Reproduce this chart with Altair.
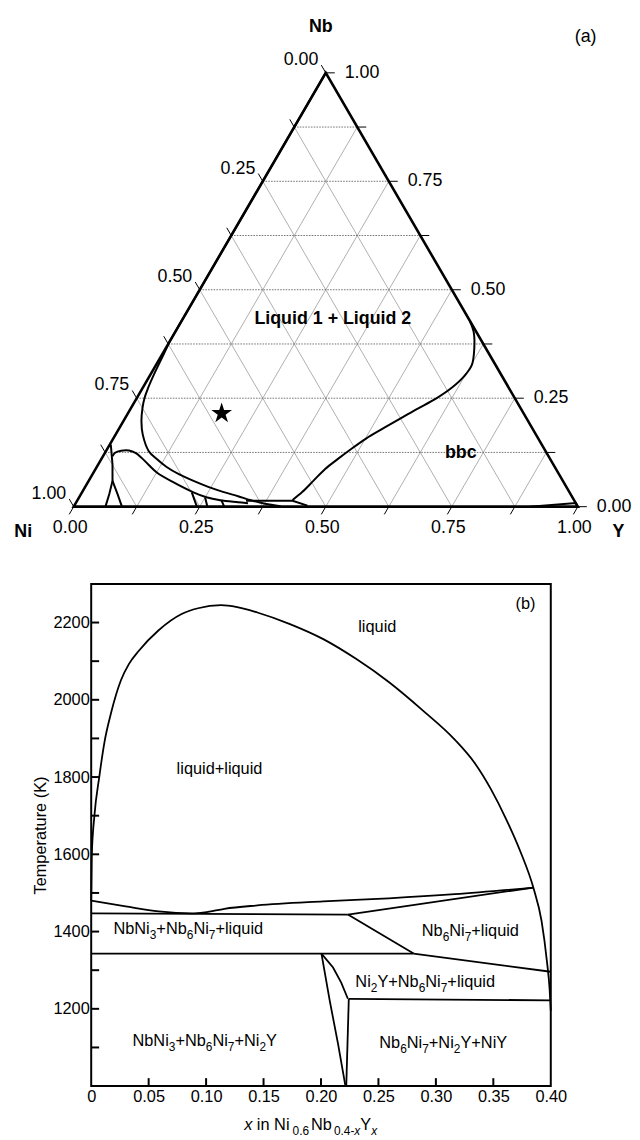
import altair as alt
import pandas as pd

FONT = "Liberation Sans"

# ================= (a) Ni-Nb-Y ternary section; points are (Y fraction, Nb fraction)
GRID_FRACTIONS = [0.125, 0.25, 0.375, 0.5, 0.625, 0.75, 0.875]
TICK_FRACTIONS = [0.0, 0.125, 0.25, 0.375, 0.5, 0.625, 0.75, 0.875, 1.0]
LABEL_FRACTIONS = [0.0, 0.25, 0.5, 0.75, 1.0]
LABEL_TEXTS = ["0.00", "0.25", "0.50", "0.75", "1.00"]

GAP_WEST_Y = [0.0, 0.0, 0.003, 0.0063, 0.011, 0.0151, 0.023, 0.0362, 0.054, 0.085, 0.110,
              0.1387, 0.170, 0.208, 0.244, 0.279, 0.314, 0.344, 0.376, 0.410]
GAP_WEST_NB = [1.0, 0.38, 0.349, 0.3105, 0.2724, 0.2511, 0.2267, 0.1963, 0.166, 0.1279, 0.1096,
               0.0913, 0.0753, 0.0594, 0.0457, 0.0342, 0.024, 0.0148, 0.0068, 0.0011]
GAP_EAST_Y = [0.4265, 0.4366, 0.4456, 0.4554, 0.468, 0.4835, 0.501, 0.5214, 0.541, 0.567,
              0.594, 0.6135, 0.6244, 0.6265, 0.613, 0.5926, 0.5715]
GAP_EAST_NB = [0.0153, 0.0342, 0.0594, 0.0868, 0.1084, 0.1324, 0.1564, 0.1781, 0.1975, 0.2237,
               0.2489, 0.2751, 0.3014, 0.3265, 0.363, 0.4018, 0.4285]
HUMP_Y = [0.0187, 0.0199, 0.0295, 0.045, 0.0617, 0.0793, 0.101, 0.1254, 0.1703, 0.221,
          0.2523, 0.2833, 0.321, 0.3418]
HUMP_NB = [0.1164, 0.1244, 0.129, 0.1295, 0.1233, 0.1119, 0.0959, 0.0788, 0.0559, 0.0331,
           0.0217, 0.0148, 0.0103, 0.008]
STEM_Y = [0.002, 0.0282, 0.0473]
STEM_NB = [0.1432, 0.0975, 0.0594]
BRANCH_L_Y = [0.0473, 0.0561, 0.063]
BRANCH_L_NB = [0.0594, 0.029, 0.0]
BRANCH_R_Y = [0.0473, 0.0725, 0.0957]
BRANCH_R_NB = [0.0594, 0.029, 0.0]
SPUR1_Y, SPUR1_NB = [0.2177, 0.2443], [0.0331, 0.0]
SPUR2_Y, SPUR2_NB = [0.2501, 0.2652], [0.0212, 0.0]
SPUR3_Y, SPUR3_NB = [0.2864, 0.2986], [0.0137, 0.0]
SHELF_Y, SHELF_NB = [0.335, 0.4273, 0.4625], [0.0137, 0.0137, 0.0023]
SLIVER_Y, SLIVER_NB = [0.905, 0.9918, 1.0], [0.0, 0.0084, 0.0]

STAR_Y, STAR_NB = [0.186], [0.215]

REGION_TEXT = ["Liquid 1 + Liquid 2", "bbc"]
REGION_Y = [0.298, 0.7065]
REGION_NB = [0.432, 0.1226]
PANEL_A_TEXT, PANEL_A_Y, PANEL_A_NB = ["(a)"], [0.474], [1.083]

# ================= (b) vertical section Ni0.6Nb0.4-xYx
DOME_X = [0.0, 0.0005, 0.0028, 0.0071, 0.0114, 0.0172, 0.0258, 0.0329, 0.0415, 0.0587, 0.0787,
          0.093, 0.113, 0.127, 0.1446, 0.173, 0.202, 0.2305, 0.259, 0.288, 0.3164, 0.3336,
          0.348, 0.361, 0.3737, 0.385, 0.392, 0.3966, 0.399, 0.4]
DOME_T = [1480, 1597, 1700, 1802, 1888, 1965, 2050, 2093, 2127, 2180, 2222,
          2237, 2245, 2240, 2226, 2196, 2157, 2106, 2046, 1974, 1897, 1837,
          1768, 1692, 1606, 1512, 1427, 1324, 1250, 1195]
UPPER_X = [0.0, 0.030, 0.0587, 0.0873, 0.0988, 0.116, 0.1446, 0.202, 0.259, 0.3164, 0.385]
UPPER_T = [1480, 1465, 1452, 1447, 1449.6, 1459, 1467.7, 1478, 1486, 1496.7, 1514]
INV1_X, INV1_T = [0.0, 0.2234], [1447, 1444]
CONV_X, CONV_T = [0.2234, 0.385], [1444, 1514]
DIAG1_X, DIAG1_T = [0.2234, 0.2806], [1444, 1343]
INV2_X, INV2_T = [0.0, 0.2806], [1343, 1343]
DIAG2_X, DIAG2_T = [0.2806, 0.4], [1343, 1296]
CURVE_A_X = [0.2004, 0.2105, 0.2176, 0.2234]
CURVE_A_T = [1343, 1307, 1268, 1226]
CURVE_B_X = [0.2004, 0.2076, 0.2148, 0.2213]
CURVE_B_T = [1343, 1221, 1110, 1000]
STEMB_X, STEMB_T = [0.2242, 0.222], [1226, 1000]
INV3_X, INV3_T = [0.2242, 0.4], [1226, 1222]

X_LABEL_VALUES = [0, 0.05, 0.10, 0.15, 0.20, 0.25, 0.30, 0.35, 0.40]
X_TICK_VALUES = [0.05, 0.10, 0.15, 0.20, 0.25, 0.30, 0.35]
Y_LABEL_VALUES = [1200, 1400, 1600, 1800, 2000, 2200]
Y_TICK_VALUES = [1100, 1200, 1300, 1400, 1500, 1600, 1700, 1800, 1900, 2000, 2100, 2200]

PHASE_TEXT = ["liquid", "liquid+liquid", "NbNi_3+Nb_6Ni_7+liquid", "Nb_6Ni_7+liquid",
              "Ni_2Y+Nb_6Ni_7+liquid", "NbNi_3+Nb_6Ni_7+Ni_2Y", "Nb_6Ni_7+Ni_2Y+NiY", "(b)"]
PHASE_X = [0.249, 0.1117, 0.0845, 0.330, 0.2907, 0.0988, 0.3064, 0.378]
PHASE_T = [2191, 1824, 1409, 1405, 1273, 1119, 1114, 2251]

TITLE_PIECES = ["x", "in Ni", "0.6", "Nb", "0.4-", "x", "Y", "x"]
TITLE_STYLES = ["main_it", "main", "sub", "main", "sub", "sub_it", "main", "sub_it"]
TITLE_X, TITLE_T = 0.191, 902.6

# ----------------------------------------------------------------- helpers
A_W, A_H = 464, 562
B_W, B_H = 464, 507
XA_DOMAIN = [0.03472, 0.94631]
YA_DOMAIN = [-0.14612, 1.13699]
D = 0.0178  # ternary tick length (composition units)
FS_A = 18
FS_B = 16.5
FS_SUB = 12
PX_PER_X = B_W / 0.4
TITLE_GAPS = [0, 4.6, 3, 2, 2, 0, 0, 0]  # px of spacing before each title piece
STAR_PATH = ("M0,-1L0.2245,-0.309L0.9511,-0.309L0.3633,0.118L0.5878,0.809L0,0.382"
             "L-0.5878,0.809L-0.3633,0.118L-0.9511,-0.309L-0.2245,-0.309Z")


def tern_df(rows):
    df = pd.DataFrame(rows)
    df["u"] = df["Y"] + df["Nb"] / 2.0
    df["v"] = df["Nb"]
    return df


SMOOTH_A = {"gw": (GAP_WEST_Y[1:], GAP_WEST_NB[1:]), "ge": (GAP_EAST_Y, GAP_EAST_NB),
            "hump": (HUMP_Y, HUMP_NB)}
STRAIGHT_A = {
    "gw0": (GAP_WEST_Y[:2], GAP_WEST_NB[:2]), "stem": (STEM_Y, STEM_NB),
    "bl": (BRANCH_L_Y, BRANCH_L_NB), "br": (BRANCH_R_Y, BRANCH_R_NB),
    "s1": (SPUR1_Y, SPUR1_NB), "s2": (SPUR2_Y, SPUR2_NB), "s3": (SPUR3_Y, SPUR3_NB),
    "shelf": (SHELF_Y, SHELF_NB), "sliver": (SLIVER_Y, SLIVER_NB),
}


def curve_frame(curves):
    rows = []
    for cid, (ys, nbs) in curves.items():
        for i, (y, nb) in enumerate(zip(ys, nbs)):
            rows.append({"id": cid, "ord": i, "Y": y, "Nb": nb})
    return tern_df(rows)


smooth_a = curve_frame(SMOOTH_A)
straight_a = curve_frame(STRAIGHT_A)

rows = []
for k, f in enumerate(GRID_FRACTIONS):
    fams = (("h", [(0.0, f), (1 - f, f)]),
            ("a", [(f, 0.0), (f, 1 - f)]),
            ("b", [(1 - f, 0.0), (0.0, 1 - f)]))
    for kind, pts in fams:
        for i, (y, nb) in enumerate(pts):
            rows.append({"id": f"{kind}{k}", "kind": kind, "ord": i, "Y": y, "Nb": nb})
grid_a = tern_df(rows)
grid_h_df = grid_a[grid_a["kind"] == "h"]
grid_d_df = grid_a[grid_a["kind"] != "h"]

rows = []
for k, f in enumerate(TICK_FRACTIONS):
    segs = (("r", [(1 - f, f), (1 - f + D, f)]),
            ("l", [(0.0, 1 - f), (-D, 1 - f + D)]),
            ("b", [(f, 0.0), (f, -D)]))
    for side, pts in segs:
        for i, (y, nb) in enumerate(pts):
            rows.append({"id": f"{side}{k}", "ord": i, "Y": y, "Nb": nb})
ticks_a = tern_df(rows)

tri_a = tern_df([{"id": "t", "ord": 0, "Y": 0.0, "Nb": 0.0}, {"id": "t", "ord": 1, "Y": 1.0, "Nb": 0.0},
                 {"id": "t", "ord": 2, "Y": 0.0, "Nb": 1.0}, {"id": "t", "ord": 3, "Y": 0.0, "Nb": 0.0},
                 {"id": "t", "ord": 4, "Y": 1.0, "Nb": 0.0}])

left_lab = tern_df([{"Y": -D, "Nb": 1 - t + D, "text": s} for t, s in zip(LABEL_FRACTIONS, LABEL_TEXTS)])
right_lab = tern_df([{"Y": 1 - t + D, "Nb": t, "text": s} for t, s in zip(LABEL_FRACTIONS, LABEL_TEXTS)])
bottom_lab = tern_df([{"Y": t, "Nb": -D, "text": s} for t, s in zip(LABEL_FRACTIONS, LABEL_TEXTS)])
star_a = tern_df([{"Y": y, "Nb": nb} for y, nb in zip(STAR_Y, STAR_NB)])
region_a = tern_df([{"Y": y, "Nb": nb, "text": s} for s, y, nb in zip(REGION_TEXT, REGION_Y, REGION_NB)])
panel_a = tern_df([{"Y": y, "Nb": nb, "text": s} for s, y, nb in zip(PANEL_A_TEXT, PANEL_A_Y, PANEL_A_NB)])
corner_nb = tern_df([{"Y": 0.0, "Nb": 1.0, "text": "Nb"}])
corner_ni = tern_df([{"Y": 0.0, "Nb": 0.0, "text": "Ni"}])
corner_y = tern_df([{"Y": 1.0, "Nb": 0.0, "text": "Y"}])

xA = alt.X("u:Q", scale=alt.Scale(domain=XA_DOMAIN, nice=False, zero=False), axis=None)
yA = alt.Y("v:Q", scale=alt.Scale(domain=YA_DOMAIN, nice=False, zero=False), axis=None)


def txt(df, **kw):
    base = dict(font=FONT, fontSize=FS_A, color="black")
    base.update(kw)
    return alt.Chart(df).mark_text(**base).encode(x=xA, y=yA, text="text:N")


def path(df, **kw):
    return alt.Chart(df).mark_line(**kw).encode(x=xA, y=yA, detail="id:N", order="ord:Q")


grid_h = path(grid_h_df, color="#666666", strokeWidth=0.9, strokeDash=[1.6, 1.2])
grid_d = path(grid_d_df, color="#8c8c8c", strokeWidth=0.7)
ticks = path(ticks_a, color="black", strokeWidth=1.0)
tri = path(tri_a, color="black", strokeWidth=2.6)
curves_s = path(smooth_a, color="black", strokeWidth=2.0, interpolate="catmull-rom")
curves_l = path(straight_a, color="black", strokeWidth=2.0)
star = alt.Chart(star_a).mark_point(shape=STAR_PATH, filled=True, color="black", size=480,
                                    opacity=1, strokeWidth=0).encode(x=xA, y=yA)

chart_a = alt.layer(
    grid_d, grid_h, ticks, curves_s, curves_l, tri, star,
    txt(left_lab, align="right", baseline="middle", dx=-3, dy=-5),
    txt(right_lab, align="left", baseline="middle", dx=10),
    txt(bottom_lab, align="center", baseline="middle", dx=1, dy=14),
    txt(corner_nb, fontWeight="bold", align="center", baseline="middle", dx=-5, dy=-46),
    txt(corner_ni, fontWeight="bold", align="center", baseline="middle", dx=-51, dy=26),
    txt(corner_y, fontWeight="bold", align="center", baseline="middle", dx=41, dy=26),
    txt(region_a, fontWeight="bold", align="center", baseline="middle"),
    txt(panel_a, align="center", baseline="middle"),
).properties(width=A_W, height=A_H)

# ----------------------------------------------------------------- (b)
SMOOTH_B = {"dome": (DOME_X, DOME_T), "upper": (UPPER_X, UPPER_T)}
STRAIGHT_B = {
    "inv1": (INV1_X, INV1_T), "conv": (CONV_X, CONV_T), "diag1": (DIAG1_X, DIAG1_T),
    "inv2": (INV2_X, INV2_T), "diag2": (DIAG2_X, DIAG2_T), "ca": (CURVE_A_X, CURVE_A_T),
    "cb": (CURVE_B_X, CURVE_B_T), "stem": (STEMB_X, STEMB_T), "inv3": (INV3_X, INV3_T),
}


def line_frame(curves):
    rows = []
    for cid, (xs, ts) in curves.items():
        for i, (xv, tv) in enumerate(zip(xs, ts)):
            rows.append({"id": cid, "ord": i, "x": xv, "T": tv})
    return pd.DataFrame(rows)


smooth_b = line_frame(SMOOTH_B)
straight_b = line_frame(STRAIGHT_B)

ADV = {" ": 278, ".": 278, "-": 333, "+": 584, "(": 333, ")": 333, "x": 500, "i": 222,
       "n": 556, "N": 722, "b": 556, "Y": 667, "l": 222, "q": 556, "u": 556, "d": 556}


def adv(s, size):
    return sum(ADV.get(c, 556) for c in s) * size / 1000.0


def split_rich(label):
    out, buf, i = [], "", 0
    while i < len(label):
        c = label[i]
        if c == "_":
            if buf:
                out.append((buf, "main"))
                buf = ""
            out.append((label[i + 1], "sub"))
            i += 2
        else:
            buf += c
            i += 1
    if buf:
        out.append((buf, "main"))
    return out


def rich_rows(pieces, xc, tc, gaps=None):
    if gaps is None:
        gaps = [0] * len(pieces)
    sizes = [FS_SUB if st.startswith("sub") else FS_B for _, st in pieces]
    total = sum(adv(p, s) + g for (p, _), s, g in zip(pieces, sizes, gaps))
    cur = -total / 2.0
    res = []
    for (p, st), s, g in zip(pieces, sizes, gaps):
        cur += g
        res.append({"x": xc + cur / PX_PER_X, "T": tc, "text": p, "style": st})
        cur += adv(p, s)
    return res


rows = []
for lab, xc, tc in zip(PHASE_TEXT, PHASE_X, PHASE_T):
    rows += rich_rows(split_rich(lab), xc, tc)
rows += rich_rows(list(zip(TITLE_PIECES, TITLE_STYLES)), TITLE_X, TITLE_T, TITLE_GAPS)
text_b = pd.DataFrame(rows)

xB = alt.X("x:Q", scale=alt.Scale(domain=[0, 0.4], nice=False, zero=False),
           axis=alt.Axis(values=X_LABEL_VALUES, labelExpr="datum.value == 0 ? '0' : format(datum.value, '.2f')",
                         ticks=False, domain=False, grid=False, labelFlush=False, labelOverlap=False,
                         labelFont=FONT, labelFontSize=FS_B, labelColor="black", labelPadding=3, title=None))
yB = alt.Y("T:Q", scale=alt.Scale(domain=[1000, 2300], nice=False, zero=False),
           axis=alt.Axis(values=Y_LABEL_VALUES, format="d", ticks=False, domain=False, grid=False,
                         labelFlush=False, labelOverlap=False, labelFont=FONT, labelFontSize=FS_B,
                         labelColor="black", labelPadding=2, title="Temperature (K)", titleFont=FONT,
                         titleFontSize=FS_B, titleFontWeight="normal", titleColor="black", titlePadding=4))

frame = alt.Chart(pd.DataFrame({"k": [0]})).mark_rect(fill="white", fillOpacity=0, stroke="black",
                                                       strokeWidth=2).encode(
    x=alt.value(0), x2=alt.value(B_W), y=alt.value(0), y2=alt.value(B_H))
lines_s = alt.Chart(smooth_b).mark_line(color="black", strokeWidth=1.8, interpolate="monotone").encode(
    x=xB, y=yB, detail="id:N", order="ord:Q")
lines_l = alt.Chart(straight_b).mark_line(color="black", strokeWidth=1.8).encode(
    x=xB, y=yB, detail="id:N", order="ord:Q")
xt = alt.Chart(pd.DataFrame({"x": X_TICK_VALUES})).mark_rule(color="black", strokeWidth=2).encode(
    x=xB, y=alt.value(B_H), y2=alt.value(B_H - 8))
yt = alt.Chart(pd.DataFrame({"T": Y_TICK_VALUES})).mark_rule(color="black", strokeWidth=2).encode(
    y=yB, x=alt.value(0), x2=alt.value(8))


def rich_mark(style, size, dy, italic=False):
    kw = dict(font=FONT, fontSize=size, color="black", align="left", baseline="alphabetic", dy=dy)
    if italic:
        kw["fontStyle"] = "italic"
    return alt.Chart(text_b[text_b["style"] == style]).mark_text(**kw).encode(
        x=xB, y=yB, text="text:N")


chart_b = alt.layer(
    lines_s, lines_l, xt, yt, frame,
    rich_mark("main", FS_B, 6), rich_mark("main_it", FS_B, 6, True),
    rich_mark("sub", FS_SUB, 11), rich_mark("sub_it", FS_SUB, 11, True),
).properties(width=B_W, height=B_H)

chart = alt.vconcat(chart_a, chart_b, spacing=13).properties(
    padding={"left": 6, "top": 0, "right": 0, "bottom": 0}
).configure_view(strokeOpacity=0)

chart.save("out.html", embed_options={"renderer": "svg", "actions": False})
